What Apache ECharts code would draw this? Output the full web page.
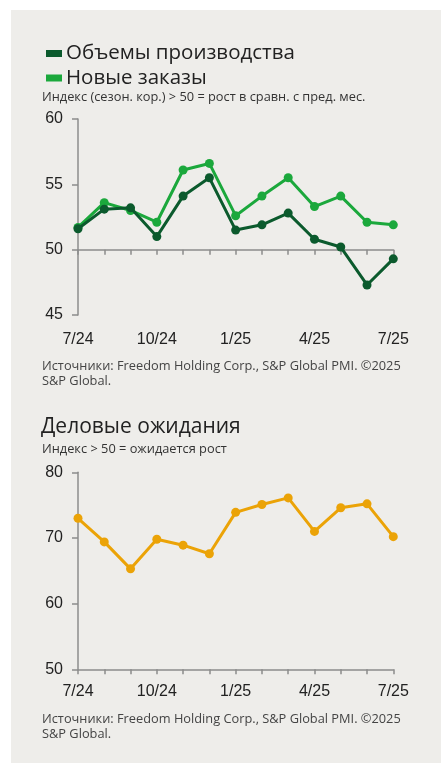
<!DOCTYPE html>
<html>
<head>
<meta charset="utf-8">
<script src="https://cdn.jsdelivr.net/npm/echarts@6/dist/echarts.min.js"></script>
<style>
html,body{margin:0;padding:0;background:#ffffff;}
#c{width:441px;height:764px;}
</style>
</head>
<body>
<div id="c"></div>
<script>
// ---- data ----
const months = ['7/24','8/24','9/24','10/24','11/24','12/24','1/25','2/25','3/25','4/25','5/25','6/25','7/25'];
const outputName = 'Объемы производства';
const ordersName = 'Новые заказы';
const outputValues = [51.6, 53.1, 53.2, 51.0, 54.1, 55.5, 51.5, 51.9, 52.8, 50.8, 50.2, 47.3, 49.3];
const ordersValues = [51.7, 53.6, 53.0, 52.1, 56.1, 56.6, 52.6, 54.1, 55.5, 53.3, 54.1, 52.1, 51.9];
const expectName = 'Деловые ожидания';
const expectValues = [73.0, 69.4, 65.3, 69.8, 68.9, 67.6, 73.9, 75.1, 76.1, 71.0, 74.6, 75.2, 70.2];
const pmiTicks = [45, 50, 55, 60];
const expectTicks = [50, 60, 70, 80];
const subtitle1 = 'Индекс (сезон. кор.) > 50 = рост в сравн. с пред. мес.';
const subtitle2 = 'Индекс > 50 = ожидается рост';
const sourceLine1 = 'Источники: Freedom Holding Corp., S&P Global PMI. ©2025';
const sourceLine2 = 'S&P Global.';

// ---- styles ----
const cDark = '#0b5a2d';
const cLight = '#1ba83c';
const cOrange = '#eba307';
const axisGray = '#8c8c8c';
const tickFont = 'Liberation Sans, Arial, sans-serif';
const textFont = '"Open Sans", Lato, sans-serif';

const chart = echarts.init(document.getElementById('c'), null, {renderer:'canvas'});

function catAxis(grid, opts) {
  return Object.assign({
    type: 'category', gridIndex: grid, data: months, boundaryGap: false, position: 'bottom',
    axisLine: {show: true, lineStyle: {color: axisGray, width: 1.5}},
    axisTick: {show: true, interval: 0, length: 5, lineStyle: {color: axisGray, width: 1.5}},
    axisLabel: {show: true, interval: 2, color: '#222', fontFamily: tickFont, fontSize: 16, margin: 14},
    splitLine: {show: false}
  }, opts);
}
function valAxis(grid, ticks) {
  return {
    type: 'value', gridIndex: grid,
    min: ticks[0], max: ticks[ticks.length-1], interval: ticks[1]-ticks[0],
    axisLine: {show: true, lineStyle: {color: axisGray, width: 1.5}},
    axisTick: {show: true, length: 6, lineStyle: {color: axisGray, width: 1.5}},
    axisLabel: {color: '#222', fontFamily: tickFont, fontSize: 16, margin: 15},
    splitLine: {show: false}
  };
}

const lineStyleBase = (color) => ({
  type: 'line', symbol: 'circle', symbolSize: 9, showSymbol: true,
  lineStyle: {color: color, width: 3}, itemStyle: {color: color},
  animation: false
});

const option = {
  backgroundColor: '#ffffff',
  animation: false,
  graphic: [
    {type: 'rect', z: -10, shape: {x: 11, y: 10, width: 430, height: 753}, style: {fill: '#eeedea'}},
    {type: 'text', left: 42, top: 90.5, style: {text: subtitle1, fontFamily: textFont, fontSize: 12.8, fill: '#333'}},
    {type: 'text', left: 42, top: 358.5, style: {text: sourceLine1 + '\n' + sourceLine2, fontFamily: textFont, fontSize: 12.8, lineHeight: 15, fill: '#444'}},
    {type: 'text', left: 41, top: 417, style: {text: expectName, fontFamily: textFont, fontSize: 21, fill: '#222'}},
    {type: 'text', left: 42, top: 442.5, style: {text: subtitle2, fontFamily: textFont, fontSize: 12.8, fill: '#333'}},
    {type: 'text', left: 42, top: 711.5, style: {text: sourceLine1 + '\n' + sourceLine2, fontFamily: textFont, fontSize: 12.8, lineHeight: 15, fill: '#444'}}
  ],
  legend: {
    left: 41, top: 38, orient: 'vertical', icon: 'rect', itemWidth: 16, itemHeight: 7, itemGap: 3.5,
    data: [outputName, ordersName],
    textStyle: {fontFamily: textFont, fontSize: 20.5, lineHeight: 20, color: '#222', padding: [0,0,0,-1]}
  },
  grid: [
    {left: 78, right: 47.7, top: 119, bottom: 449, containLabel: false},
    {left: 78, right: 47.7, top: 472.3, bottom: 94.7, containLabel: false}
  ],
  xAxis: [
    catAxis(0, {axisLine: {show: false}, axisTick: {show: false}, axisLabel: {show: true, interval: 2, color: '#222', fontFamily: tickFont, fontSize: 16, margin: 17}}),
    catAxis(0, {position: 'bottom', offset: -65.3, axisLabel: {show: false}}),
    catAxis(1, {})
  ],
  yAxis: [valAxis(0, pmiTicks), valAxis(1, expectTicks)],
  series: [
    Object.assign(lineStyleBase(cDark), {name: outputName, xAxisIndex: 0, yAxisIndex: 0, data: outputValues, z: 3}),
    Object.assign(lineStyleBase(cLight), {name: ordersName, xAxisIndex: 0, yAxisIndex: 0, data: ordersValues, z: 2}),
    Object.assign(lineStyleBase(cOrange), {name: expectName, xAxisIndex: 2, yAxisIndex: 1, data: expectValues})
  ]
};
chart.setOption(option);
</script>
</body>
</html>
